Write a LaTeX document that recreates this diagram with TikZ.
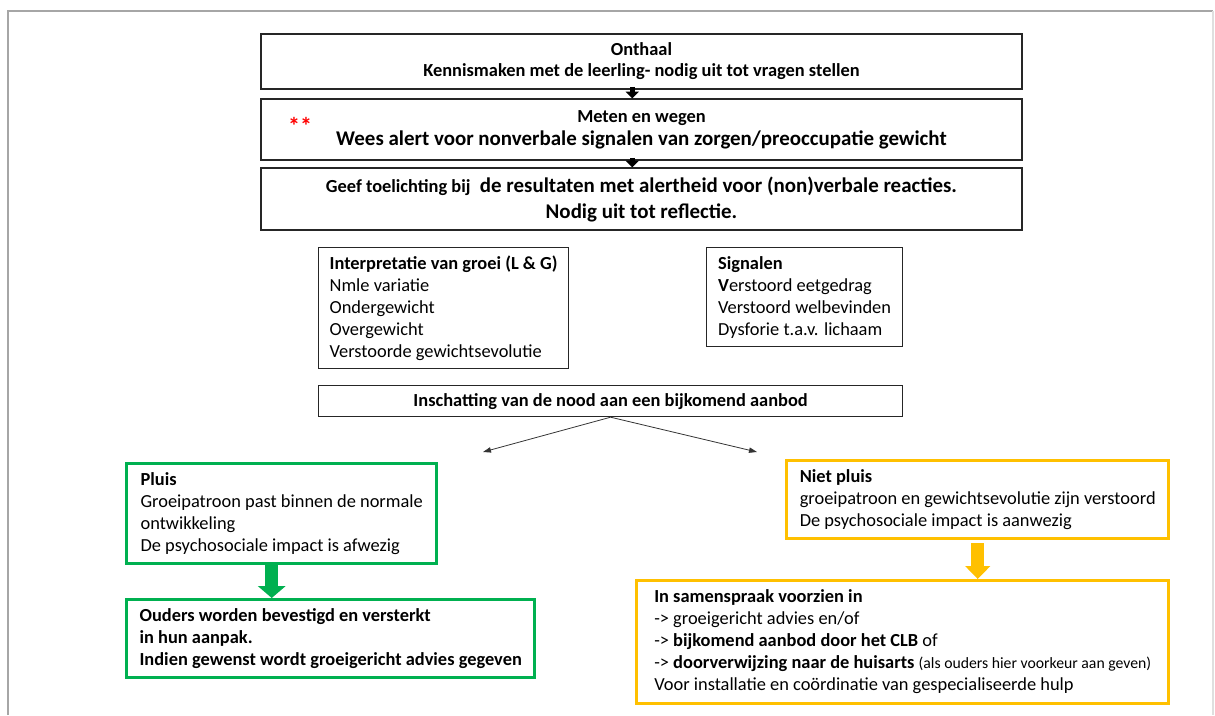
\documentclass[tikz,border=0pt]{standalone}
\usepackage{fontspec}
\setmainfont{Carlito}
\usepackage{tikz}
\usetikzlibrary{arrows.meta, positioning}
\definecolor{pluisgreen}{HTML}{00B050}
\definecolor{nietpluisgold}{HTML}{FFC000}
\newcommand{\gewoon}{\fontsize{13.8}{16.5}\selectfont}
\newcommand{\groot}{\fontsize{15.7}{19.5}\selectfont}
\newcommand{\klein}{\fontsize{11.8}{13}\selectfont}

\begin{document}
\begin{tikzpicture}[x=0.75pt, y=-0.75pt,
  every node/.style={font=\gewoon, inner sep=0pt},
  stapbox/.style={draw=black!85, line width=0.9pt, minimum width=570.75pt, align=center},
  zwartbox/.style={draw=black!85, line width=0.9pt, align=left, anchor=north west},
  groenbox/.style={draw=pluisgreen, line width=2.6pt, align=left, anchor=north west},
  geelbox/.style={draw=nietpluisgold, line width=2.6pt, align=left, anchor=north west},
  zwartepijl/.style={draw=black, line width=4pt, shorten <=-2pt, -{Triangle[width=10pt,length=5pt,line width=0pt]}},
  dunnepijl/.style={draw=black!80, line width=0.6pt, -{Triangle[width=4pt,length=6pt]}},
  groenepijl/.style={draw=pluisgreen, line width=9.75pt, -{Triangle[width=21pt,length=9pt,line width=0pt]}},
  geelpijl/.style={draw=nietpluisgold, line width=9.75pt, -{Triangle[width=19pt,length=9.75pt,line width=0pt]}}]
  \useasboundingbox (0,0) rectangle (1215,715);
  \draw[gray!70, line width=1pt] (8,715) -- (8,11) -- (1213,11);
  \draw[gray!25, line width=1pt] (1213,11) -- (1213,715);

  \node[stapbox, minimum height=41.25pt, font=\bfseries\fontsize{13.8}{15.75}\selectfont] (onthaal) at (641.5,61.5)
    {Onthaal\\Kennismaken met de leerling- nodig uit tot vragen stellen};
  \node[stapbox, minimum height=45.75pt, font=\bfseries\gewoon] (meten) at (641.5,129.5)
    {Meten en wegen\\[1pt]{\groot Wees alert voor nonverbale signalen van zorgen/preoccupatie gewicht}};
  \node[text=red, font=\bfseries\fontsize{18}{20}\selectfont] (sterren) at (300,126) {**};
  \node[stapbox, minimum height=46.5pt, font=\bfseries\groot] (toelichting) at (641.5,199)
    {{\gewoon Geef toelichting bij}\ \ de resultaten met alertheid voor (non)verbale reacties.\\Nodig uit tot reflectie.};
  \draw[zwartepijl] ([xshift=-7pt]onthaal.south) -- ([xshift=-7pt]meten.north);
  \draw[zwartepijl] ([xshift=-7pt]meten.south) -- ([xshift=-7pt]toelichting.north);

  \node[zwartbox, minimum width=187.5pt, minimum height=90.75pt] (groei) at (318,247)
    {\textbf{Interpretatie van groei (L \& G)}\\Nmle variatie\\Ondergewicht\\Overgewicht\\Verstoorde gewichtsevolutie};
  \node[zwartbox, minimum width=147pt, minimum height=74.25pt] (signalen) at (706,247)
    {\textbf{Signalen}\\\textbf{V}erstoord eetgedrag\\Verstoord welbevinden\\Dysforie t.a.v. lichaam};
  \node[zwartbox, minimum width=438pt, minimum height=23.25pt, align=center, font=\bfseries\gewoon] (nood) at (318,385)
    {Inschatting van de nood aan een bijkomend aanbod};
  \coordinate (links) at (483,452);
  \coordinate (rechts) at (757,452);
  \draw[dunnepijl] (nood.south) -- (links);
  \draw[dunnepijl] (nood.south) -- (rechts);

  \node[groenbox, minimum width=232.5pt, minimum height=75pt] (pluis) at (125,462)
    {\textbf{Pluis}\\Groeipatroon past binnen de normale\\ontwikkeling\\De psychosociale impact is afwezig};
  \node[groenbox, minimum width=306pt, minimum height=58.5pt, font=\bfseries\gewoon] (ouders) at (125,598)
    {Ouders worden bevestigd en versterkt\\in hun aanpak.\\Indien gewenst wordt groeigericht advies gegeven};
  \coordinate (groenstart) at ([xshift=-7.5pt]pluis.south);
  \draw[groenepijl] (groenstart) -- (groenstart |- ouders.north);

  \node[geelbox, minimum width=286.5pt, minimum height=58.5pt] (nietpluis) at (785,459)
    {\textbf{Niet pluis}\\groeipatroon en gewichtsevolutie zijn verstoord\\De psychosociale impact is aanwezig};
  \node[geelbox, minimum width=399pt, minimum height=92pt] (samenspraak) at (635,579)
    {\textbf{In samenspraak voorzien in}\\-> groeigericht advies en/of\\-> \textbf{bijkomend aanbod door het CLB} of\\-> \textbf{doorverwijzing naar de huisarts} {\klein(als ouders hier voorkeur aan geven)}\\Voor installatie en coördinatie van gespecialiseerde hulp};
  \draw[geelpijl, shorten <=2pt] (nietpluis.south) -- (nietpluis.south |- samenspraak.north);
\end{tikzpicture}
\end{document}
